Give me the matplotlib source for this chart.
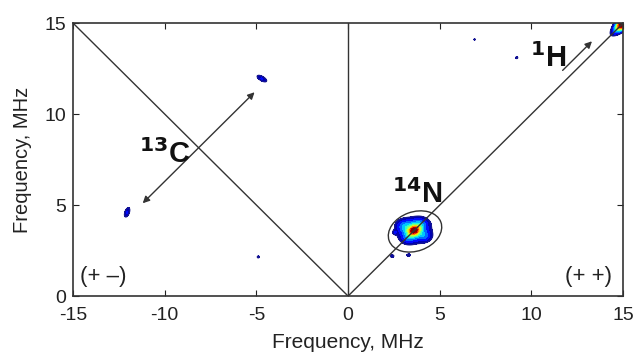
import matplotlib
matplotlib.use("Agg")
import matplotlib.pyplot as plt
from matplotlib.patches import Ellipse
import numpy as np

plt.rcParams["font.family"] = ["Liberation Sans", "DejaVu Sans"]
plt.rcParams["axes.unicode_minus"] = False

# axis ranges and ticks (MHz)
x_range = [-15, 15]
y_range = [0, 15]
x_ticks = [-15, -10, -5, 0, 5, 10, 15]
y_ticks = [0, 5, 10, 15]

# HYSCORE cross-peaks: centre, amplitude, widths, tilt (deg)
peak_x = [3.6, 3.6, 3.05, 4.15, 3.9, 3.3, 2.55, 2.4, 3.3, 15.0, 14.75, -12.05, -4.7, -4.9, 9.2, 6.9]
peak_y = [3.6, 3.6, 3.85, 3.3, 3.95, 3.2, 3.5, 2.2, 2.25, 15.0, 14.75, 4.6, 11.95, 2.15, 13.1, 14.1]
peak_amp = [0.75, 0.3, 0.22, 0.2, 0.18, 0.15, 0.12, 0.13, 0.12, 1.0, 0.3, 0.17, 0.17, 0.11, 0.11, 0.1]
peak_sx = [0.22, 0.55, 0.3, 0.28, 0.3, 0.25, 0.08, 0.1, 0.1, 0.3, 0.35, 0.1, 0.24, 0.07, 0.07, 0.06]
peak_sy = [0.17, 0.42, 0.25, 0.22, 0.22, 0.2, 0.08, 0.07, 0.07, 0.18, 0.15, 0.22, 0.1, 0.07, 0.07, 0.06]
peak_angle = [20, 20, 0, 0, 0, 0, 0, 0, 0, 45, 45, -20, -30, 0, 0, 0]

# annotations
arrow_13c = [(-11.2, 5.1), (-5.1, 11.2)]
arrow_1h = [(11.7, 12.4), (13.3, 14.0)]
labels = ["$^{\\mathbf{13}}$C", "$^{\\mathbf{14}}$N", "$^{\\mathbf{1}}$H"]
label_pos = [(-11.4, 7.3), (2.4, 5.1), (9.9, 12.6)]
n14_ellipse = (3.65, 3.55, 3.0, 2.15, 20)

x = np.linspace(x_range[0], x_range[1], 901)
y = np.linspace(y_range[0], y_range[1], 451)
X, Y = np.meshgrid(x, y)
Z = np.zeros_like(X)
for cx, cy, a, sx, sy, ang in zip(peak_x, peak_y, peak_amp, peak_sx, peak_sy, peak_angle):
    t = np.deg2rad(ang)
    u = (X - cx) * np.cos(t) + (Y - cy) * np.sin(t)
    v = -(X - cx) * np.sin(t) + (Y - cy) * np.cos(t)
    Z += a * np.exp(-0.5 * ((u / sx) ** 2 + (v / sy) ** 2))

fig = plt.figure(figsize=(6.36, 3.55), dpi=100)
ax = fig.add_axes([0.1148, 0.166, 0.865, 0.769])

levels = np.linspace(0.08, 1.0, 12)
ax.contourf(X, Y, Z, levels=levels, cmap="jet", extend="max")
ax.contour(X, Y, Z, levels=levels[:1], colors="#1a1a8c", linewidths=0.8)

# diagonal and anti-diagonal, vertical at 0
line_c = "#333333"
ax.plot([x_range[0], 0, x_range[1]], [y_range[1], 0, y_range[1]], color=line_c, lw=1.0)
ax.plot([0, 0], y_range, color=line_c, lw=1.0)

ax.annotate("", xy=arrow_13c[0], xytext=arrow_13c[1],
            arrowprops=dict(arrowstyle="<|-|>", color=line_c, lw=1.0,
                            mutation_scale=10, shrinkA=0, shrinkB=0))
ax.annotate("", xy=arrow_1h[1], xytext=arrow_1h[0],
            arrowprops=dict(arrowstyle="-|>", color=line_c, lw=1.0,
                            mutation_scale=10, shrinkA=0, shrinkB=0))

ell = Ellipse(n14_ellipse[:2], n14_ellipse[2], n14_ellipse[3], angle=n14_ellipse[4],
              fill=False, edgecolor=line_c, lw=1.0)
ax.add_patch(ell)

for lab, (lx, ly) in zip(labels, label_pos):
    ax.text(lx, ly, lab, fontsize=21, fontweight="bold", ha="left", va="baseline",
            color="#111111")

ax.text(-14.6, 1.05, "(+ \u2013)", fontsize=16, ha="left", va="center", color="#222222")
ax.text(14.4, 1.05, "(+ +)", fontsize=16, ha="right", va="center", color="#222222")

ax.set_xlim(x_range)
ax.set_ylim(y_range)
ax.set_xticks(x_ticks)
ax.set_yticks(y_ticks)
ax.tick_params(direction="in", length=4, labelsize=14, colors="#222222",
               top=True, right=True)
ax.tick_params(axis="x", pad=8)
ax.tick_params(axis="y", pad=5)
for s in ax.spines.values():
    s.set_color("#333333")
    s.set_linewidth(1.2)
ax.set_xlabel("Frequency, MHz", fontsize=15, labelpad=6, color="#222222")
ax.set_ylabel("Frequency, MHz", fontsize=14.5, labelpad=9, color="#222222")

fig.savefig("out.png", dpi=100)
